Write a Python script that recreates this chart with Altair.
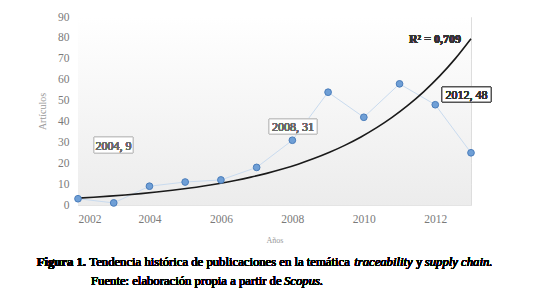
import altair as alt
import pandas as pd

years = [2002, 2003, 2004, 2005, 2006, 2007, 2008, 2009, 2010, 2011, 2012, 2013]
articles = [3, 1, 9, 11, 12, 18, 31, 54, 42, 58, 48, 25]

df = pd.DataFrame({"year": years, "articles": articles})

W, H = 393, 188
SERIF = "Liberation Serif"

xs = alt.Scale(domain=[2002, 2013], nice=False)
ys = alt.Scale(domain=[0, 90], nice=False)

xenc = alt.X("year:Q", scale=xs,
             axis=alt.Axis(title="Años", values=[2002, 2004, 2006, 2008, 2010, 2012],
                           format="d", grid=True, gridColor="#e4e4e4", domain=False, ticks=False,
                           labelFont=SERIF, labelFontSize=11.5, labelColor="#7a7a7a",
                           labelPadding=8, titleFont=SERIF, titleFontSize=8,
                           titleColor="#999999", titleFontWeight="normal", titlePadding=12))
yenc = alt.Y("articles:Q", scale=ys,
             axis=alt.Axis(title="Artículos", values=list(range(0, 91, 10)),
                           grid=True, gridColor="#e4e4e4", domain=False, ticks=False,
                           labelFont=SERIF, labelFontSize=11.5, labelColor="#7a7a7a",
                           labelPadding=9, titleFont=SERIF, titleFontSize=10,
                           titleColor="#999999", titleFontWeight="normal", titlePadding=10))

bg = alt.Chart(df).mark_rect(
    color=alt.LinearGradient(gradient="linear", x1=0, y1=0, x2=0, y2=1,
                             stops=[alt.GradientStop(color="#ffffff", offset=0),
                                    alt.GradientStop(color="#ececec", offset=1)])
).encode(x=alt.value(0), x2=alt.value(W), y=alt.value(0), y2=alt.value(H))

axes = alt.Chart(df).mark_point(opacity=0).encode(x=xenc, y=yenc)

line = alt.Chart(df).mark_line(color="#c9dbef", strokeWidth=1).encode(x=xenc, y=yenc)

# Exponential trend (least squares on log values, as in a spreadsheet trendline)
trend = alt.Chart(df).transform_calculate(
    lny="log(datum.articles)"
).transform_regression(
    "year", "lny", method="poly", order=1, extent=[2002, 2013]
).transform_calculate(
    articles="exp(datum.lny)"
).mark_line(color="#1a1a1a", strokeWidth=1.6, interpolate="monotone").encode(x=xenc, y=yenc)

pts = alt.Chart(df).mark_point(filled=True, size=45, color="#6f9fd6",
                               stroke="#4a7dbb", strokeWidth=1, opacity=1).encode(x=xenc, y=yenc)

def box(x1, x2, y1, y2, label, stroke, color):
    r = alt.Chart(df).mark_rect(fill="white", stroke=stroke, strokeWidth=1).encode(
        x=alt.value(x1), x2=alt.value(x2), y=alt.value(y1), y2=alt.value(y2))
    t = alt.Chart(df).mark_text(text=label, font=SERIF, fontSize=12, color=color,
                                align="center", baseline="middle").encode(
        x=alt.value((x1 + x2) / 2), y=alt.value((y1 + y2) / 2 + 0.5))
    return r + t

b1 = box(16, 55, 120, 136, "2004, 9", "#c4c4c4", "#6a6a6a")
b2 = box(191, 239, 102, 117, "2008, 31", "#c4c4c4", "#6a6a6a")
b3 = box(364, 413, 70, 85, "2012, 48", "#555555", "#333333")

r2 = alt.Chart(df).mark_text(text="R² = 0,709", font=SERIF, fontSize=12, fontWeight="bold",
                             color="#333333", align="right", baseline="middle").encode(
    x=alt.value(383), y=alt.value(22))

def cap(x, y, txt, weight="normal", style="normal"):
    return alt.Chart(df).mark_text(text=txt, font=SERIF, fontSize=12.7, color="#000000",
                                   align="left", baseline="alphabetic",
                                   fontWeight=weight, fontStyle=style).encode(
        x=alt.value(x), y=alt.value(y))

c1 = cap(-41.3, 249, "Figura 1.", weight="bold")
c2 = cap(11.3, 249, "Tendencia histórica de publicaciones en la temática")
c3 = cap(276.2, 249, "traceability", style="italic")
c4 = cap(338, 249, "y")
c5 = cap(346.8, 249, "supply chain.", style="italic")
c6 = cap(13, 268, "Fuente: elaboración propia a partir de")
c7 = cap(206, 268, "Scopus.", style="italic")

chart = alt.layer(bg, axes, line, trend, pts, b1, b2, b3, r2,
                  c1, c2, c3, c4, c5, c6, c7).properties(
    width=W, height=H,
    autosize=alt.AutoSizeParams(type="none"),
    padding={"left": 78, "top": 17, "right": 79, "bottom": 85},
).configure_view(stroke=None).configure(background="white")

chart.save("out.html", embed_options={"renderer": "svg", "actions": False})
